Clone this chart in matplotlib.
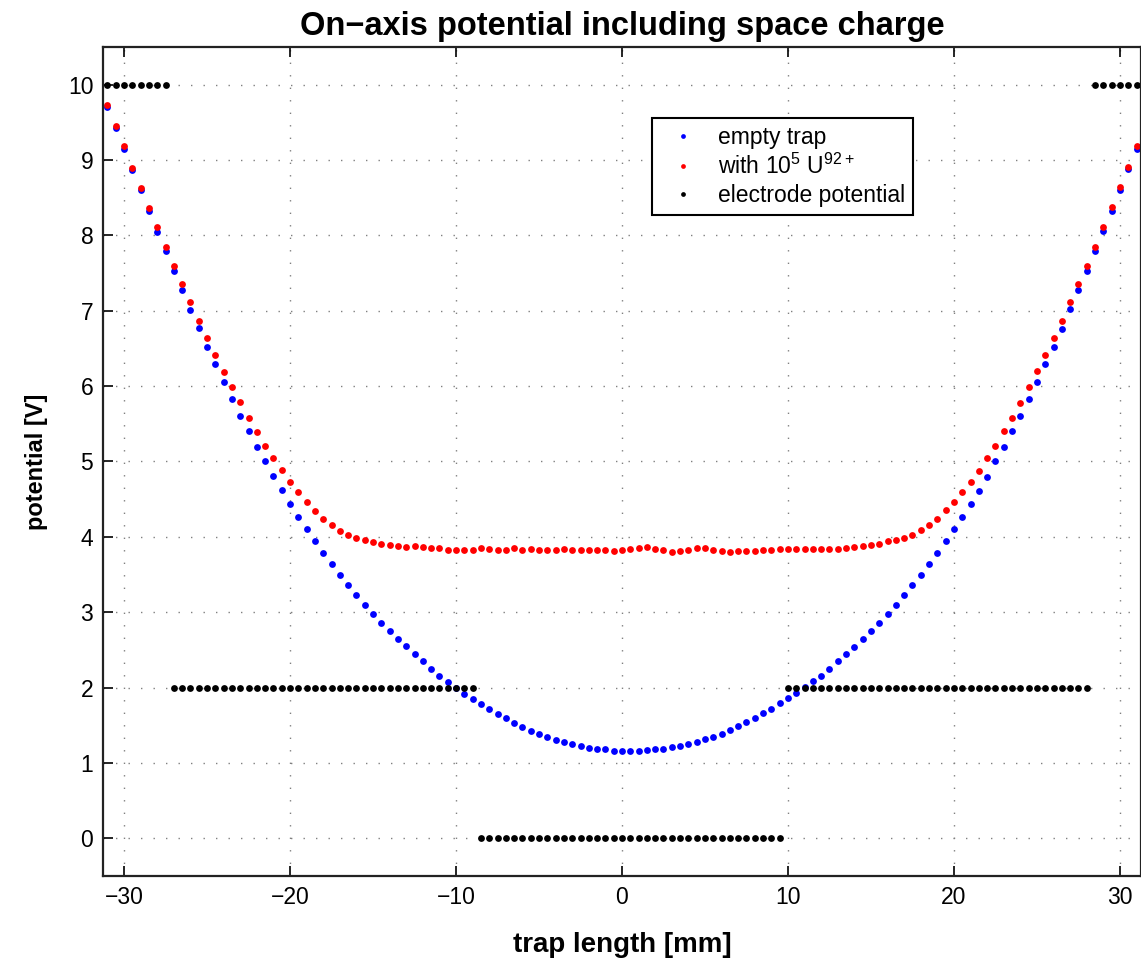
import numpy as np
import matplotlib
matplotlib.use("Agg")
import matplotlib.pyplot as plt

plt.rcParams['font.family'] = ['Liberation Sans', 'DejaVu Sans']
plt.rcParams['mathtext.fontset'] = 'custom'
plt.rcParams['mathtext.rm'] = 'Liberation Sans'

# trap axis samples [mm], 0.5 mm spacing
x_first, x_last = -31.0, 31.0

# empty trap potential [V]
empty_trap = [
    9.71, 9.43, 9.15, 8.87, 8.60, 8.32, 8.05, 7.79, 7.53, 7.27,
    7.01, 6.77, 6.52, 6.29, 6.06, 5.83, 5.61, 5.40, 5.19, 5.00,
    4.81, 4.62, 4.44, 4.27, 4.10, 3.94, 3.79, 3.64, 3.49, 3.36,
    3.23, 3.10, 2.98, 2.86, 2.75, 2.64, 2.55, 2.44, 2.35, 2.25,
    2.16, 2.08, 2.00, 1.92, 1.85, 1.78, 1.71, 1.65, 1.59, 1.53,
    1.48, 1.43, 1.39, 1.35, 1.31, 1.28, 1.25, 1.22, 1.20, 1.19,
    1.18, 1.16, 1.16, 1.16, 1.16, 1.17, 1.18, 1.19, 1.21, 1.23,
    1.25, 1.28, 1.32, 1.35, 1.39, 1.44, 1.49, 1.54, 1.60, 1.66,
    1.72, 1.79, 1.86, 1.93, 2.01, 2.09, 2.16, 2.25, 2.35, 2.44,
    2.54, 2.64, 2.75, 2.86, 2.98, 3.10, 3.23, 3.36, 3.50, 3.64,
    3.78, 3.94, 4.10, 4.27, 4.44, 4.61, 4.80, 5.00, 5.19, 5.40,
    5.61, 5.83, 6.06, 6.29, 6.52, 6.76, 7.02, 7.27, 7.53, 7.79,
    8.06, 8.33, 8.60, 8.88, 9.15,
]

# with 1e5 U92+ ions [V]
with_ions = [
    9.73, 9.45, 9.18, 8.90, 8.63, 8.36, 8.11, 7.85, 7.60, 7.35,
    7.11, 6.87, 6.64, 6.41, 6.19, 5.99, 5.79, 5.58, 5.39, 5.21,
    5.05, 4.89, 4.73, 4.59, 4.46, 4.34, 4.24, 4.16, 4.08, 4.03,
    3.99, 3.96, 3.93, 3.91, 3.89, 3.88, 3.86, 3.88, 3.86, 3.85,
    3.85, 3.83, 3.83, 3.83, 3.83, 3.85, 3.84, 3.83, 3.83, 3.85,
    3.83, 3.84, 3.83, 3.83, 3.83, 3.84, 3.82, 3.82, 3.82, 3.82,
    3.82, 3.81, 3.83, 3.84, 3.85, 3.86, 3.84, 3.82, 3.80, 3.81,
    3.83, 3.85, 3.85, 3.83, 3.81, 3.80, 3.81, 3.81, 3.81, 3.83,
    3.83, 3.84, 3.84, 3.84, 3.84, 3.84, 3.84, 3.84, 3.84, 3.85,
    3.86, 3.88, 3.89, 3.91, 3.94, 3.96, 3.99, 4.03, 4.09, 4.16,
    4.24, 4.35, 4.46, 4.59, 4.73, 4.88, 5.04, 5.21, 5.40, 5.58,
    5.78, 5.99, 6.20, 6.41, 6.64, 6.87, 7.11, 7.35, 7.60, 7.85,
    8.11, 8.38, 8.64, 8.91, 9.18,
]

# electrode potential: levels [V] and number of samples per electrode
electrode_levels = [10, 2, 0, 2, 10]
electrode_samples = [8, 37, 37, 37, 6]

x = np.linspace(x_first, x_last, len(empty_trap))
electrode = np.repeat(electrode_levels, electrode_samples)

fig = plt.figure(figsize=(11.41, 9.6), dpi=100)
ax = fig.add_axes([103 / 1141, 1 - 876 / 960, 1038 / 1141, 829 / 960])

ms = 4.9
ax.plot(x, empty_trap, 'o', color='blue', ms=ms, mew=0, label='empty trap')
ax.plot(x, with_ions, 'o', color='red', ms=ms, mew=0,
        label=r'with 10$^5$ U$^{92+}$')
ax.plot(x, electrode, 'o', color='black', ms=ms, mew=0,
        label='electrode potential')

ax.set_xlim(-31.27, 31.27)
ax.set_ylim(-0.5, 10.5)
ax.set_xticks([-30, -20, -10, 0, 10, 20, 30])
ax.set_yticks(range(0, 11))
ax.set_xticklabels(['\u221230', '\u221220', '\u221210', '0', '10', '20', '30'])

ax.set_axisbelow(True)
ax.grid(True, color='0.5', linestyle=(0, (1, 8)), linewidth=1.0)
ax.tick_params(direction='in', length=7, width=1.2, top=True, right=False,
               labelsize=16.5, pad=7, colors='black')
for s in ax.spines.values():
    s.set_linewidth(1.6)
    s.set_color('#222222')

ax.set_title('On\u2212axis potential including space charge',
             fontsize=23.5, fontweight='bold', pad=9)
ax.set_xlabel('trap length [mm]', fontsize=20, fontweight='bold', labelpad=17)
ax.set_ylabel('potential [V]', fontsize=17, fontweight='bold', labelpad=14)

leg = ax.legend(loc='upper left', bbox_to_anchor=(0.529, 0.914),
                borderaxespad=0, fontsize=16.5, fancybox=False,
                framealpha=1, edgecolor='black', handletextpad=0.52,
                borderpad=0.35, labelspacing=0.2, handlelength=2.0,
                markerscale=0.7)
leg.get_frame().set_linewidth(1.5)

fig.savefig('out.png', dpi=100)
